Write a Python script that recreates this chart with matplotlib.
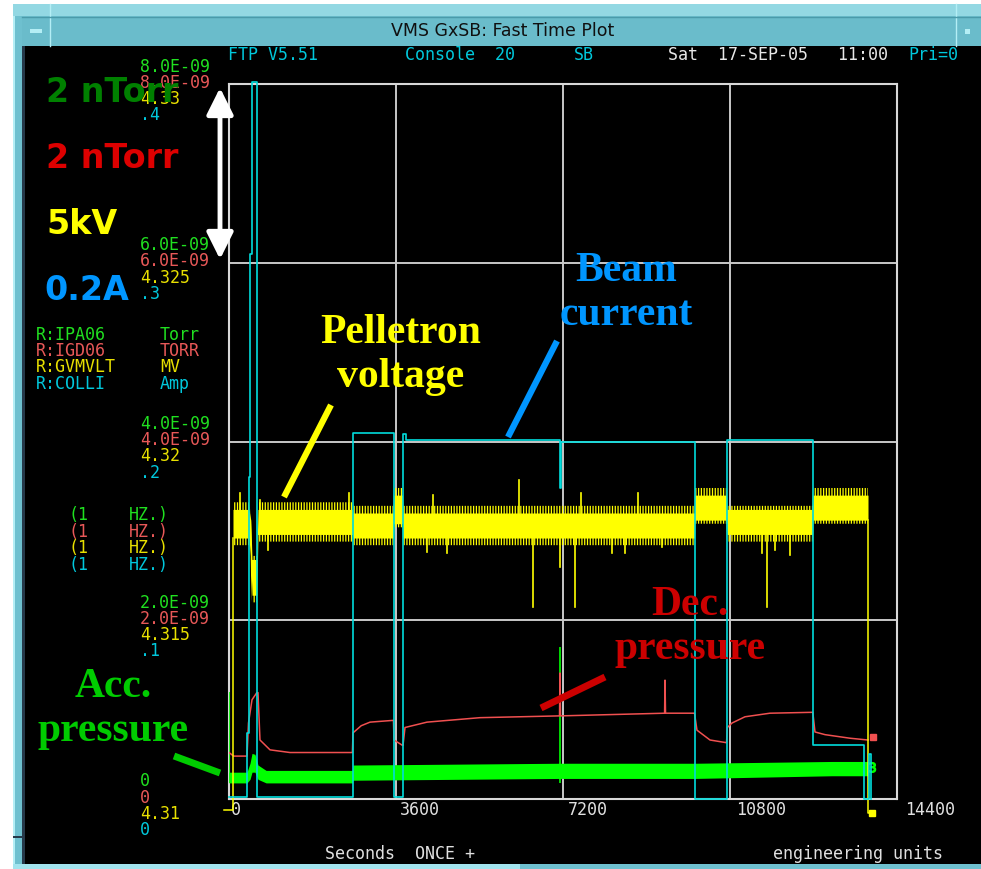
import numpy as np
import matplotlib
matplotlib.use('Agg')
import matplotlib.pyplot as plt
from matplotlib.patches import Rectangle, FancyArrowPatch

# time axis (seconds)
t_max = 14400
x_ticks = [0, 3600, 7200, 10800, 14400]

# left scale labels, one column per channel, bottom to top (4 divisions)
acc_ticks = ['0', '2.0E-09', '4.0E-09', '6.0E-09', '8.0E-09']
dec_ticks = ['0', '2.0E-09', '4.0E-09', '6.0E-09', '8.0E-09']
volt_ticks = ['4.31', '4.315', '4.32', '4.325', '4.33']
amp_ticks = ['0', '.1', '.2', '.3', '.4']

# channel names / units
chan_names = ['R:IPA06', 'R:IGD06', 'R:GVMVLT', 'R:COLLI']
chan_units = ['Torr', 'TORR', 'MV', 'Amp']

# beam current R:COLLI (A), step changes
beam_t = [0, 388, 431, 453, 496, 604, 2673, 3557, 3751, 3816, 7135, 7157,
          10045, 10735, 12589, 13689, 13797, 13840]
beam_a = [0.001, 0.037, 0.180, 0.305, 0.401, 0.001, 0.205, 0.001, 0.204, 0.201,
          0.174, 0.200, 0.0, 0.201, 0.030, 0.0, 0.025, 0.0]

# decel pressure R:IGD06 (nTorr)
dec_t = [0, 100, 388, 420, 496, 600, 625, 668, 884, 1315, 2660, 2673, 2850, 3040,
         3545, 3557, 3740, 3751, 3794, 4268, 5411, 7125, 7135, 7147, 9390, 9399,
         9410, 10035, 10088, 10369, 10725, 10743, 10843, 11123, 11662, 12585,
         12632, 12848, 13387, 13775]
dec_p = [0.52, 0.48, 0.48, 0.85, 1.11, 1.19, 1.19, 0.66, 0.55, 0.52, 0.52, 0.74,
         0.82, 0.86, 0.88, 0.66, 0.60, 0.60, 0.80, 0.86, 0.91, 0.93, 1.41, 0.93,
         0.96, 1.33, 0.96, 0.96, 0.77, 0.66, 0.63, 0.80, 0.85, 0.92, 0.96, 0.97,
         0.75, 0.72, 0.68, 0.66]

# accel pressure R:IPA06 (nTorr), min/max envelope of the noisy trace
acc_t = [0, 388, 453, 496, 560, 625, 800, 2660, 2673, 7135, 10045, 13000, 13775]
acc_lo = [0.18, 0.18, 0.22, 0.30, 0.30, 0.22, 0.18, 0.18, 0.21, 0.23, 0.23, 0.26, 0.26]
acc_hi = [0.30, 0.30, 0.40, 0.51, 0.50, 0.38, 0.32, 0.32, 0.38, 0.40, 0.40, 0.42, 0.42]
acc_spike_t = [0, 7135]
acc_spike_p = [1.20, 1.70]

# pelletron voltage R:GVMVLT (MV): dense core and outer fringe
volt_t = [86, 430, 470, 496, 600, 625, 2660, 2673, 3545, 3557, 3740, 3751,
          10035, 10045, 10725, 10735, 12580, 12589, 13775]
volt_lo = [4.3173, 4.3173, 4.3167, 4.3157, 4.3157, 4.3174, 4.3174, 4.3173, 4.3173,
           4.3177, 4.3177, 4.3173, 4.3173, 4.3178, 4.3178, 4.3174, 4.3174, 4.3178, 4.3178]
volt_hi = [4.3181, 4.3181, 4.3178, 4.3167, 4.3167, 4.3181, 4.3181, 4.3180, 4.3180,
           4.3185, 4.3185, 4.3180, 4.3180, 4.3185, 4.3185, 4.3181, 4.3181, 4.3185, 4.3185]
volt_flo = [4.3171, 4.3171, 4.3164, 4.3155, 4.3155, 4.3172, 4.3172, 4.3171, 4.3171,
            4.3176, 4.3176, 4.3171, 4.3171, 4.3177, 4.3177, 4.3172, 4.3172, 4.3177, 4.3177]
volt_fhi = [4.3183, 4.3183, 4.3180, 4.3168, 4.3168, 4.3183, 4.3183, 4.3182, 4.3182,
            4.3187, 4.3187, 4.3182, 4.3182, 4.3187, 4.3187, 4.3182, 4.3182, 4.3187, 4.3187]
volt_spk_t = [240, 668, 841, 2587, 4268, 4397, 4699, 6251, 6553, 7135, 7459, 7588,
              8256, 8537, 8817, 9334, 11490, 11597, 11770, 12094]
volt_spk_v = [4.31856, 4.31836, 4.31697, 4.31856, 4.31691, 4.31850, 4.31688, 4.31892,
              4.31537, 4.31649, 4.31537, 4.31856, 4.31688, 4.31688, 4.31856, 4.31705,
              4.31688, 4.31537, 4.31697, 4.31682]
volt_lead_t = [-100, 86, 86]
volt_lead_v = [4.3097, 4.3097, 4.3173]
volt_tail_t = [13775, 13775, 13860]
volt_tail_v = [4.3178, 4.3096, 4.3096]


def p_div(p):
    return np.asarray(p) / 2.0


def v_div(v):
    return (np.asarray(v) - 4.31) / 0.005


def a_div(a):
    return np.asarray(a) / 0.1


GREEN = '#00ff00'
RED = '#f05050'
YELLOW = '#ffff00'
CYAN = '#00dcdc'
LBL_GREEN = '#20e020'
LBL_RED = '#e85858'
LBL_YELLOW = '#e8e000'
LBL_CYAN = '#00c8dc'
GRAY = '#d8d8d8'
MONO = 'DejaVu Sans Mono'

plt.rcParams['hatch.linewidth'] = 0.9

fig = plt.figure(figsize=(9.81, 8.69), dpi=100, facecolor='white')

# window frame
bg = fig.add_axes([0, 0, 1, 1], zorder=0)
bg.set_xlim(0, 981)
bg.set_ylim(869, 0)
bg.axis('off')


def box(x, y, w, h, c):
    bg.add_patch(Rectangle((x, y), w, h, facecolor=c, edgecolor='none'))


box(13, 4, 968, 865, '#6ec0cf')
box(13, 4, 2, 865, '#b4eef5')
box(13, 4, 968, 12, '#93d8e3')
box(22, 17, 959, 29, '#6abccb')
box(22, 46, 3, 818, '#26394a')
box(25, 46, 956, 818, 'black')
box(13, 864, 507, 5, '#a2e4ee')
box(520, 864, 461, 5, '#6ec0cf')
box(13, 836, 10, 2, '#26394a')
bg.plot([50, 50], [4, 46], color='#b4eef5', lw=1)
bg.plot([956, 956], [4, 46], color='#b4eef5', lw=1)
bg.plot([22, 981], [17, 17], color='#4a9aaa', lw=1)
box(30, 29, 12, 4, '#b4eef5')
box(965, 29, 5, 5, '#b4eef5')
bg.text(503, 31, 'VMS GxSB: Fast Time Plot', ha='center', va='center',
        fontsize=12.5, color='#101010', family='DejaVu Sans')

# plot area
ax = fig.add_axes([229 / 981, 70 / 869, 668 / 981, 715 / 869], zorder=2)
ax.set_facecolor('black')
ax.set_xlim(0, t_max)
ax.set_ylim(0, 4)
ax.set_xticks(x_ticks)
ax.set_yticks(range(5))
ax.tick_params(length=0, labelbottom=False, labelleft=False)
ax.grid(True, color='#c8c8c8', lw=1.4)
for s in ax.spines.values():
    s.set_color(GRAY)
    s.set_linewidth(1.5)

# accel pressure
ax.fill_between(acc_t, p_div(acc_lo), p_div(acc_hi), color=GREEN, lw=0, zorder=3)
ax.vlines(acc_spike_t, p_div(acc_lo)[0], p_div(acc_spike_p), color=GREEN, lw=1.2, zorder=3)
ax.plot([13860], [p_div(0.36)], marker='$3$', ms=7, color=GREEN, clip_on=False, zorder=3)

# decel pressure
ax.plot(dec_t, p_div(dec_p), color=RED, lw=1.1, zorder=4)
ax.plot([13880], [p_div(0.69)], marker='s', ms=4, color=RED, clip_on=False, zorder=4)

# pelletron voltage
ax.fill_between(volt_t, v_div(volt_flo), v_div(volt_fhi), facecolor='none',
                edgecolor=YELLOW, hatch='||||||', lw=0, zorder=5)
ax.fill_between(volt_t, v_div(volt_lo), v_div(volt_hi), color=YELLOW, lw=0, zorder=5)
for t, v in zip(volt_spk_t, volt_spk_v):
    i = np.searchsorted(volt_t, t)
    base = (volt_lo[i] + volt_hi[i]) / 2
    ax.plot([t, t], v_div([base, v]), color=YELLOW, lw=1.2, zorder=5)
ax.plot(volt_lead_t, v_div(volt_lead_v), color=YELLOW, lw=1.1, clip_on=False, zorder=5)
ax.plot(volt_tail_t, v_div(volt_tail_v), color=YELLOW, lw=1.1, clip_on=False, zorder=5)
ax.plot([volt_tail_t[-1]], v_div([volt_tail_v[-1]]), marker='s', ms=5,
        color=YELLOW, clip_on=False, zorder=5)

# beam current
ax.plot(beam_t, a_div(beam_a), drawstyle='steps-post', color=CYAN, lw=1.2,
        clip_on=False, zorder=6)

# left scale labels
cols = [(acc_ticks, LBL_GREEN), (dec_ticks, LBL_RED), (volt_ticks, LBL_YELLOW),
        (amp_ticks, LBL_CYAN)]
for i in range(5):
    for j, (labels, c) in enumerate(cols):
        ax.annotate(labels[i], xy=(0, i), xycoords=('axes fraction', 'data'),
                    xytext=(-89, 17.5 - 16.2 * j), textcoords='offset pixels',
                    ha='left', va='center', fontsize=12, family=MONO, color=c,
                    annotation_clip=False)

# time labels
for k, t in enumerate(x_ticks):
    ax.annotate(str(t), xy=(t, 0), xycoords=('data', 'axes fraction'),
                xytext=(2 + 1.5 * k, -11), textcoords='offset pixels',
                ha='left', va='center', fontsize=12, family=MONO, color='#e0e0e0',
                annotation_clip=False)

# overlay for screen text and slide notes
ov = fig.add_axes([0, 0, 1, 1], zorder=3)
ov.set_xlim(0, 981)
ov.set_ylim(869, 0)
ov.axis('off')

hdr = dict(fontsize=12, family=MONO, va='center', ha='left')
ov.text(228, 55, 'FTP V5.51', color=LBL_CYAN, **hdr)
ov.text(405, 55, 'Console  20', color=LBL_CYAN, **hdr)
ov.text(574, 55, 'SB', color=LBL_CYAN, **hdr)
ov.text(668, 55, 'Sat  17-SEP-05   11:00', color='#e8e8e8', **hdr)
ov.text(908, 55, 'Pri=0', color=LBL_CYAN, **hdr)

leg_colors = [LBL_GREEN, LBL_RED, LBL_YELLOW, LBL_CYAN]
for j, c in enumerate(leg_colors):
    ov.text(36, 335 + 16.2 * j, chan_names[j], color=c, **hdr)
    ov.text(160, 335 + 16.2 * j, chan_units[j], color=c, **hdr)
    ov.text(68, 515 + 16.7 * j, '(1', color=c, **hdr)
    ov.text(129, 515 + 16.7 * j, 'HZ.)', color=c, **hdr)

ov.text(325, 854, 'Seconds  ONCE +', color='#e0e0e0', **hdr)
ov.text(773, 854, 'engineering units', color='#e0e0e0', **hdr)

# scale notes
note = dict(fontsize=24, family='DejaVu Sans', weight='bold', va='center', ha='left')
ov.text(46, 93, '2 nTorr', color='#008000', **note)
ov.text(46, 158, '2 nTorr', color='#dd0000', **note)
ov.text(46, 225, '5kV', color=YELLOW, **note)
ov.text(44, 291, '0.2A', color='#0096ff', **note)
ov.add_patch(FancyArrowPatch((220, 262), (220, 85),
                             arrowstyle='<|-|>,head_length=0.9,head_width=0.45',
                             mutation_scale=18, lw=3.5, color='white'))

# trace labels
lab = dict(fontsize=30, family='Liberation Serif', weight='bold', ha='center',
           va='center', linespacing=1.2)
ov.text(401, 355, 'Pelletron\nvoltage', color=YELLOW, **lab)
ov.plot([284, 331], [497, 405], color=YELLOW, lw=4.5, solid_capstyle='butt')
ov.text(626, 293, 'Beam\ncurrent', color='#0096ff', **lab)
ov.plot([508, 557], [437, 341], color='#0096ff', lw=4.5, solid_capstyle='butt')
ov.text(690, 627, 'Dec.\npressure', color='#cc0000', **lab)
ov.plot([541, 605], [708, 677], color='#cc0000', lw=5, solid_capstyle='butt')
ov.text(113, 709, 'Acc.\npressure', color='#00cc00', **lab)
ov.plot([174, 220], [756, 773], color='#00cc00', lw=5, solid_capstyle='butt')

fig.savefig('out.png', dpi=100)
